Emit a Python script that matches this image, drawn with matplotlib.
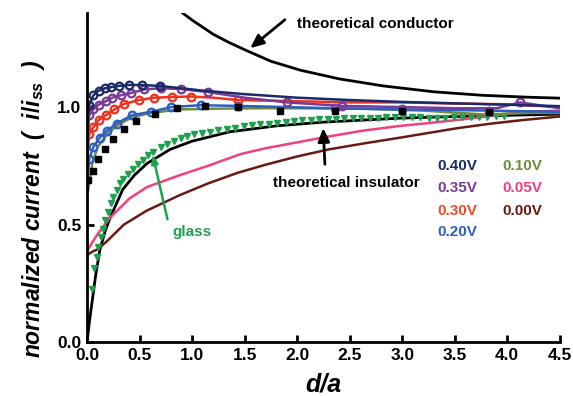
import matplotlib
matplotlib.use("Agg")
import matplotlib.pyplot as plt

plt.rcParams["font.family"] = ["Liberation Sans", "DejaVu Sans"]
plt.rcParams["mathtext.fontset"] = "custom"
plt.rcParams["mathtext.it"] = "Liberation Sans:italic:bold"
plt.rcParams["mathtext.rm"] = "Liberation Sans:bold"

# --- data ---
conductor_x = [0.91, 1.00, 1.10, 1.20, 1.35, 1.52, 1.75, 2.03, 2.40, 2.82, 3.30, 3.77, 4.20, 4.50]
conductor_y = [1.40, 1.37, 1.34, 1.31, 1.275, 1.24, 1.195, 1.157, 1.12, 1.09, 1.065, 1.05, 1.042, 1.038]

insulator_x = [0.0, 0.02, 0.05, 0.08, 0.12, 0.17, 0.22, 0.34, 0.45, 0.57, 0.79, 1.00, 1.36, 1.80, 2.25, 2.98, 3.50, 4.00, 4.50]
insulator_y = [0.0, 0.08, 0.18, 0.28, 0.39, 0.47, 0.53, 0.65, 0.71, 0.76, 0.82, 0.855, 0.895, 0.92, 0.936, 0.953, 0.96, 0.965, 0.97]

glass_x = [0.045, 0.067, 0.092, 0.108, 0.13, 0.149, 0.171, 0.203, 0.225, 0.25, 0.283, 0.314, 0.345,
           0.393, 0.44, 0.488, 0.536, 0.583, 0.631, 0.70, 0.76, 0.83, 0.89, 0.95, 1.02, 1.09,
           1.17, 1.25, 1.33, 1.41, 1.49, 1.57, 1.65, 1.73, 1.81, 1.89, 1.97, 2.05, 2.13, 2.21,
           2.29, 2.37, 2.45, 2.53, 2.61, 2.69, 2.77, 2.85, 2.93, 3.01, 3.09, 3.17, 3.25, 3.33,
           3.41, 3.49, 3.57, 3.65, 3.73, 3.81, 3.89, 3.97]
glass_y = [0.228, 0.314, 0.363, 0.406, 0.448, 0.483, 0.519, 0.554, 0.59, 0.618, 0.647, 0.675, 0.696,
           0.717, 0.738, 0.76, 0.777, 0.796, 0.81, 0.83, 0.844, 0.857, 0.868, 0.877, 0.885, 0.89,
           0.896, 0.902, 0.908, 0.913, 0.918, 0.922, 0.926, 0.93, 0.934, 0.937, 0.94, 0.943, 0.946, 0.948,
           0.95, 0.951, 0.952, 0.953, 0.954, 0.955, 0.955, 0.956, 0.957, 0.957, 0.957, 0.956, 0.955, 0.955,
           0.955, 0.956, 0.957, 0.957, 0.958, 0.959, 0.96, 0.96]

sq_x = [0.01, 0.06, 0.10, 0.17, 0.25, 0.35, 0.47, 0.65, 0.86, 1.12, 1.44, 1.84, 2.36, 3.00, 3.83]
sq_y = [0.69, 0.73, 0.78, 0.82, 0.865, 0.905, 0.94, 0.972, 0.996, 1.004, 1.0, 0.985, 0.985, 0.983, 0.98]

v40_x = [0.0, 0.02, 0.06, 0.11, 0.17, 0.23, 0.30, 0.40, 0.52, 0.69, 0.90, 1.10, 1.50, 2.00, 2.50, 3.00, 3.50, 4.00, 4.50]
v40_y = [0.92, 1.01, 1.05, 1.07, 1.08, 1.085, 1.09, 1.094, 1.094, 1.09, 1.08, 1.07, 1.055, 1.04, 1.03, 1.022, 1.016, 1.01, 1.004]
v40_marks = [1, 2, 3, 4, 5, 6, 7, 8, 9]

v35_x = [0.0, 0.02, 0.06, 0.11, 0.18, 0.24, 0.32, 0.42, 0.54, 0.70, 0.89, 1.15, 1.50, 1.90, 2.43, 3.00, 3.50, 3.90, 4.12, 4.50]
v35_y = [0.85, 0.966, 0.99, 1.01, 1.025, 1.04, 1.05, 1.06, 1.075, 1.08, 1.077, 1.064, 1.04, 1.02, 1.005, 1.0, 0.995, 0.995, 1.02, 0.995]
v35_marks = [1, 2, 3, 4, 5, 6, 7, 8, 9, 10, 11, 13, 14, 18]

v30_x = [0.0, 0.02, 0.06, 0.11, 0.18, 0.26, 0.35, 0.49, 0.64, 0.81, 0.99, 1.20, 1.44, 2.00, 2.50, 3.00, 3.50, 4.00, 4.50]
v30_y = [0.77, 0.885, 0.915, 0.945, 0.966, 0.99, 1.013, 1.03, 1.04, 1.043, 1.045, 1.04, 1.03, 1.025, 1.02, 1.02, 1.015, 1.012, 1.0]
v30_marks = [1, 2, 3, 4, 5, 6, 7, 8, 9, 10, 12]

v20_x = [0.0, 0.02, 0.06, 0.12, 0.19, 0.28, 0.43, 0.61, 0.80, 1.08, 1.44, 1.90, 2.36, 3.00, 3.40, 3.83, 4.20, 4.50]
v20_y = [0.66, 0.78, 0.83, 0.87, 0.90, 0.93, 0.966, 0.98, 1.0, 1.008, 1.005, 1.0, 0.995, 0.99, 0.988, 0.985, 0.982, 0.98]
v20_marks = [1, 2, 3, 4, 5, 6, 7, 8, 9, 10, 12, 13, 15]

v10_x = [0.0, 0.05, 0.10, 0.20, 0.30, 0.42, 0.60, 0.88, 1.20, 1.60, 2.00, 2.60, 3.20, 3.80, 4.20, 4.50]
v10_y = [0.62, 0.76, 0.83, 0.89, 0.925, 0.955, 0.975, 0.99, 0.993, 0.995, 0.995, 0.993, 0.985, 0.968, 0.975, 0.975]

v05_x = [0.0, 0.03, 0.10, 0.22, 0.40, 0.57, 0.88, 1.15, 1.46, 1.70, 2.00, 2.30, 2.63, 2.98, 3.25, 3.52, 3.80, 4.15, 4.50]
v05_y = [0.39, 0.41, 0.46, 0.53, 0.61, 0.66, 0.71, 0.75, 0.80, 0.825, 0.85, 0.875, 0.90, 0.92, 0.932, 0.945, 0.96, 0.98, 0.985]

v00_x = [0.0, 0.05, 0.10, 0.19, 0.35, 0.57, 0.88, 1.15, 1.43, 1.70, 2.00, 2.30, 2.63, 2.98, 3.25, 3.52, 3.85, 4.15, 4.50]
v00_y = [0.37, 0.385, 0.395, 0.43, 0.50, 0.56, 0.625, 0.675, 0.72, 0.755, 0.79, 0.82, 0.845, 0.87, 0.89, 0.91, 0.93, 0.945, 0.96]

legend_labels = ["0.40V", "0.35V", "0.30V", "0.20V", "0.10V", "0.05V", "0.00V"]

NAVY = "#1b2a6b"
PURPLE = "#7a3b96"
RED = "#f2301e"
BLUE = "#2b5fc4"
OLIVE = "#6f8c3a"
PINK = "#f2407c"
BROWN = "#6a1a12"
GREEN = "#1fa04e"

fig = plt.figure(figsize=(5.73, 3.96), dpi=100)
ax = fig.add_axes([0.152, 0.136, 0.825, 0.831])

ax.plot(insulator_x, insulator_y, color="black", lw=2)
ax.plot(v00_x, v00_y, color=BROWN, lw=1.8)
ax.plot(v05_x, v05_y, color=PINK, lw=1.8)
ax.plot(glass_x, glass_y, ls="none", marker="v", ms=4.5, color=GREEN)
ax.plot(v10_x, v10_y, color=OLIVE, lw=1.8)
for xs, ys, marks, c in [(v20_x, v20_y, v20_marks, BLUE),
                         (v30_x, v30_y, v30_marks, RED),
                         (v35_x, v35_y, v35_marks, PURPLE),
                         (v40_x, v40_y, v40_marks, NAVY)]:
    ax.plot(xs, ys, color=c, lw=1.8, marker="o", ms=5.5, mfc="none", mew=1.6, markevery=marks)
ax.plot(sq_x, sq_y, ls="none", marker="s", ms=5, color="black")
ax.plot(conductor_x, conductor_y, color="black", lw=2)

ax.set_xlim(0, 4.5)
ax.set_ylim(0, 1.4)
ax.set_xticks([0.0, 0.5, 1.0, 1.5, 2.0, 2.5, 3.0, 3.5, 4.0, 4.5])
ax.set_yticks([0.0, 0.5, 1.0])
ax.xaxis.set_major_formatter(matplotlib.ticker.FormatStrFormatter("%.1f"))
ax.yaxis.set_major_formatter(matplotlib.ticker.FormatStrFormatter("%.1f"))
for s in ["top", "right"]:
    ax.spines[s].set_visible(False)
for s in ["left", "bottom"]:
    ax.spines[s].set_linewidth(2)
ax.tick_params(direction="in", length=5, width=2, pad=4)
for lab in ax.get_xticklabels() + ax.get_yticklabels():
    lab.set_fontsize(12.5)
    lab.set_fontweight("bold")

ax.set_xlabel("d/a", fontsize=18, fontweight="bold", fontstyle="italic", labelpad=7)
ax.set_ylabel(r"normalized current  (  $i/i_{ss}$  )", fontsize=16.5,
              fontweight="bold", fontstyle="italic")
ax.yaxis.set_label_coords(-0.085, 0.405)

# annotations
arrow = dict(arrowstyle="-|>,head_width=0.35,head_length=0.8", color="black", lw=2)
ax.annotate("", xy=(1.532, 1.243), xytext=(1.903, 1.379), arrowprops=arrow)
ax.text(1.998, 1.353, "theoretical conductor", fontsize=11, fontweight="bold", va="center")
ax.annotate("", xy=(2.246, 0.923), xytext=(2.265, 0.745), arrowprops=arrow)
ax.text(1.77, 0.677, "theoretical insulator", fontsize=11, fontweight="bold", va="center")
ax.annotate("", xy=(0.618, 0.809), xytext=(0.771, 0.511),
            arrowprops=dict(arrowstyle="-|>,head_width=0.2,head_length=0.5", color=GREEN, lw=1.8))
ax.text(0.809, 0.468, "glass", fontsize=11, fontweight="bold", color=GREEN, va="center")

# colored voltage legend
legend_colors = [NAVY, PURPLE, "#f24a26", BLUE, OLIVE, PINK, BROWN]
legend_pos = [(3.33, 0.749), (3.33, 0.655), (3.33, 0.557), (3.33, 0.468),
              (3.95, 0.749), (3.95, 0.655), (3.95, 0.557)]
for lab, c, (lx, ly) in zip(legend_labels, legend_colors, legend_pos):
    ax.text(lx, ly, lab, fontsize=11, fontweight="bold", color=c, va="center")

fig.savefig("out.png", dpi=100)
